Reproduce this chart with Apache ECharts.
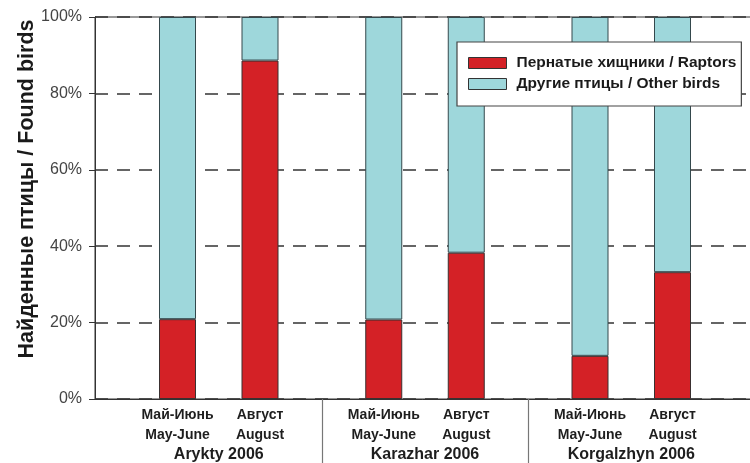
<!DOCTYPE html>
<html>
<head>
<meta charset="utf-8">
<script src="https://cdn.jsdelivr.net/npm/echarts@6/dist/echarts.min.js"></script>
<style>
html,body{margin:0;padding:0;background:#fff;}
#chart{width:750px;height:463px;}
</style>
</head>
<body>
<div id="chart"></div>
<script>
// ---- data ----
var groups = ['Arykty 2006', 'Karazhar 2006', 'Korgalzhyn 2006'];
var periods = ['Май-Июнь\nMay-June', 'Август\nAugust'];
var raptors = [20.9, 88.6, 20.8, 38.3, 11.3, 33.2];
var otherBirds = [79.1, 11.4, 79.2, 61.7, 88.7, 66.8];
var yTicks = [0, 20, 40, 60, 80, 100];
var seriesNames = ['Пернатые хищники / Raptors', 'Другие птицы / Other birds'];

// ---- layout slots (category axis with spacer slots) ----
var SLOTS = 33;
var FIRST = 4, PAIR = 4, GROUP = 10;
var slotLabels = [];
var raptorSlots = [];
var otherSlots = [];
var separators = {};
var groupSlots = {};
for (var i = 0; i < SLOTS; i++) { slotLabels.push(''); raptorSlots.push(null); otherSlots.push(null); }
for (var g = 0; g < groups.length; g++) {
  var base = FIRST + g * GROUP;
  for (var p = 0; p < periods.length; p++) {
    var idx = base + p * PAIR;
    slotLabels[idx] = periods[p];
    raptorSlots[idx] = raptors[g * 2 + p];
    otherSlots[idx] = otherBirds[g * 2 + p];
  }
  slotLabels[base + PAIR / 2] = groups[g];
  groupSlots[base + PAIR / 2] = true;
  if (g > 0) separators[base - (GROUP - PAIR) / 2] = true;
}

var chart = echarts.init(document.getElementById('chart'));
var font = 'Liberation Sans, Arial, Helvetica, sans-serif';
chart.setOption({
  animation: false,
  backgroundColor: '#ffffff',
  grid: {
    left: 95, top: 17, width: 660, height: 382,
    outerBoundsMode: 'none',
    containLabel: false,
    show: true, borderColor: '#333', borderWidth: 1, backgroundColor: 'transparent'
  },
  legend: {
    orient: 'vertical',
    left: 457, top: 42,
    padding: [13, 5, 14, 11],
    icon: 'rect',
    itemWidth: 38, itemHeight: 11, itemGap: 5,
    backgroundColor: '#fff',
    borderColor: '#444', borderWidth: 1.2,
    textStyle: { fontFamily: font, fontSize: 15.5, fontWeight: 'bold', color: '#1a1a1a', padding: [0, 0, 0, 5] },
    itemStyle: { borderColor: '#333', borderWidth: 1 },
    data: seriesNames
  },
  xAxis: {
    type: 'category',
    data: slotLabels,
    boundaryGap: false,
    axisLine: { show: true, lineStyle: { color: '#333', width: 1 } },
    axisTick: {
      show: true,
      length: 64,
      interval: function (index) { return !!separators[index]; },
      lineStyle: { color: '#777', width: 1.2 }
    },
    axisLabel: {
      interval: 0,
      margin: 6,
      fontFamily: font, fontSize: 14, fontWeight: 'bold', color: '#1e1e1e',
      lineHeight: 20, align: 'center',
      formatter: function (v, index) {
        if (groupSlots[index]) return '\n\n{g|' + v + '}';
        return v;
      },
      rich: {
        g: { fontFamily: font, fontSize: 16, fontWeight: 'bold', color: '#1e1e1e', lineHeight: 20 }
      }
    },
    splitLine: { show: false }
  },
  yAxis: {
    type: 'value',
    min: 0, max: 100, interval: 20,
    name: 'Найденные птицы / Found birds',
    nameLocation: 'middle',
    nameRotate: 90,
    nameGap: 57,
    nameMoveOverlap: false,
    nameTextStyle: { fontFamily: font, fontSize: 21.5, fontWeight: 'bold', color: '#1a1a1a', padding: [0, 0, 0, 38] },
    axisLine: { show: true, lineStyle: { color: '#333', width: 1 } },
    axisTick: { show: true, length: 6, lineStyle: { color: '#333' } },
    axisLabel: {
      margin: 13,
      fontFamily: font, fontSize: 16, color: '#444',
      formatter: function (v) { return yTicks.indexOf(v) >= 0 ? v + '%' : ''; }
    },
    splitLine: { show: true, lineStyle: { color: '#333', width: 1.5, type: [13, 9] } }
  },
  series: [
    {
      name: seriesNames[0], type: 'bar', stack: 'total', barWidth: 37,
      data: raptorSlots,
      itemStyle: { color: '#d42126', borderColor: '#3a3030', borderWidth: 1 }
    },
    {
      name: seriesNames[1], type: 'bar', stack: 'total', barWidth: 37,
      data: otherSlots,
      itemStyle: { color: '#9ed7db', borderColor: '#34484c', borderWidth: 1 }
    }
  ]
});
</script>
</body>
</html>
